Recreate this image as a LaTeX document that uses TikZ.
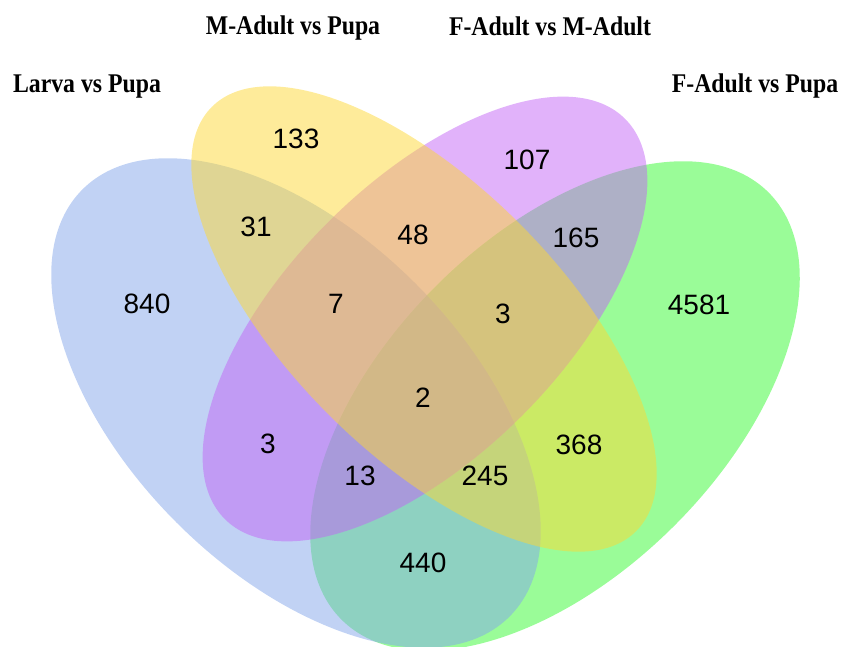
\documentclass[tikz,border=0pt]{standalone}
\usepackage{fontspec}
\setmainfont{Liberation Sans}
\newfontfamily\titlefont{Liberation Serif}
\usepackage{graphicx}
\definecolor{blueset}{HTML}{83A6EA}
\definecolor{yellowset}{HTML}{FDD835}
\definecolor{purpleset}{HTML}{C365F5}
\definecolor{greenset}{HTML}{35FA31}
\begin{document}
\begin{tikzpicture}[x=1pt,y=1pt,
  setfill/.style={fill opacity=0.5, draw=none},
  num/.style={font=\fontsize{28}{30}\selectfont, text=black, inner sep=0pt},
  settitle/.style={font=\titlefont\bfseries\fontsize{27}{29}\selectfont, anchor=base, inner sep=0pt}]
\useasboundingbox (0,0) rectangle (842,646);
\begin{scope}
\clip (0,0) rectangle (842,646);
\fill[setfill, fill=greenset, rotate around={45:(555,240)}] (555,240) ellipse [x radius=302, y radius=169];
\fill[setfill, fill=blueset, rotate around={-45:(296,243)}] (296,243) ellipse [x radius=302, y radius=169];
\fill[setfill, fill=purpleset, rotate around={45:(425,327)}] (425,327) ellipse [x radius=283, y radius=137];
\fill[setfill, fill=yellowset, rotate around={-45:(424,327)}] (424,327) ellipse [x radius=300, y radius=135];
\end{scope}
% titles
\node[settitle] (tA) at (87,553) {\scalebox{0.88}[1]{Larva vs Pupa}};
\node[settitle] (tB) at (293,611) {\scalebox{0.88}[1]{M-Adult vs Pupa}};
\node[settitle] (tC) at (550,610) {\scalebox{0.88}[1]{F-Adult vs M-Adult}};
\node[settitle] (tD) at (755,553) {\scalebox{0.88}[1]{F-Adult vs Pupa}};
% counts
\node[num] (n840) at (147,342) {840};
\node[num] (n133) at (296,507) {133};
\node[num] (n31) at (256,419) {31};
\node[num] (n107) at (527,486) {107};
\node[num] (n48) at (413,411) {48};
\node[num] (n165) at (576,408) {165};
\node[num] (n4581) at (699,341) {4581};
\node[num] (n7) at (336,342) {7};
\node[num] (n3a) at (503,332) {3};
\node[num] (n2) at (423,248) {2};
\node[num] (n3b) at (268,202) {3};
\node[num] (n13) at (360,170) {13};
\node[num] (n245) at (485,170) {245};
\node[num] (n368) at (579,201) {368};
\node[num] (n440) at (423,83) {440};
\end{tikzpicture}
\end{document}
